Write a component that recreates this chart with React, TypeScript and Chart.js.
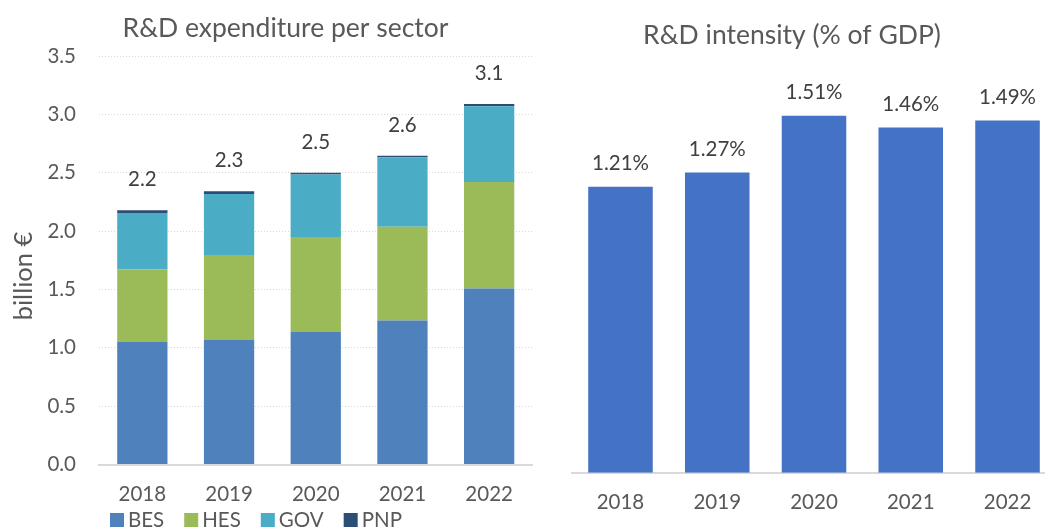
import React, { useEffect, useRef } from 'react';
import { Chart, registerables } from 'chart.js';

Chart.register(...registerables);

const YEARS = ['2018', '2019', '2020', '2021', '2022'];
const SECTORS = ['BES', 'HES', 'GOV', 'PNP'];
const BES = [1.05, 1.07, 1.14, 1.234, 1.509];
const HES = [0.62, 0.725, 0.81, 0.804, 0.912];
const GOV = [0.485, 0.523, 0.535, 0.594, 0.648];
const PNP = [0.023, 0.023, 0.014, 0.014, 0.02];
const INTENSITY = [1.21, 1.27, 1.51, 1.46, 1.49];
const SECTOR_COLORS = ['#4F81BD', '#9BBB59', '#4BACC6', '#2C4D75'];
const INTENSITY_COLOR = '#4472C4';
const LEFT_TITLE = 'R&D expenditure per sector';
const RIGHT_TITLE = 'R&D intensity (% of GDP)';
const Y_LABEL = 'billion €';

const FONT = 'Lato, "Open Sans", sans-serif';
const TEXT = '#595959';
const VALUE_TEXT = '#404040';
const GRID = '#D9D9D9';
const TICK_SIZE = 20.5;
const TITLE_SIZE = 26.5;
const YLABEL_SIZE = 25.5;

const leftDecor = {
  id: 'leftDecor',
  afterDraw(chart: any) {
    const ctx = chart.ctx;
    ctx.save();
    ctx.fillStyle = TEXT;
    ctx.font = `${TITLE_SIZE}px ${FONT}`;
    ctx.textAlign = 'center';
    ctx.textBaseline = 'alphabetic';
    ctx.fillText(LEFT_TITLE, 285.5, 36.5);

    // y axis title
    ctx.save();
    ctx.font = `${YLABEL_SIZE}px ${FONT}`;
    ctx.translate(32, 276);
    ctx.rotate(-Math.PI / 2);
    ctx.fillText(Y_LABEL, 0, 0);
    ctx.restore();

    // totals
    ctx.fillStyle = VALUE_TEXT;
    ctx.font = `${TICK_SIZE}px ${FONT}`;
    const yScale = chart.scales.y;
    const meta = chart.getDatasetMeta(0);
    YEARS.forEach((_, i) => {
      const total = chart.data.datasets.reduce((s: number, d: any) => s + d.data[i], 0);
      const x = meta.data[i].x;
      const y = yScale.getPixelForValue(total);
      ctx.fillText(total.toFixed(1), x, y - 24);
    });

    // legend
    ctx.textAlign = 'left';
    ctx.fillStyle = TEXT;
    let lx = 110;
    chart.data.datasets.forEach((d: any) => {
      ctx.fillStyle = d.backgroundColor;
      ctx.fillRect(lx, 513, 14, 14);
      ctx.fillStyle = TEXT;
      ctx.fillText(d.label, lx + 18, 527);
      lx += 18 + ctx.measureText(d.label).width + 20;
    });
    ctx.restore();
  },
};

const rightDecor = {
  id: 'rightDecor',
  afterDraw(chart: any) {
    const ctx = chart.ctx;
    ctx.save();
    ctx.fillStyle = TEXT;
    ctx.font = `${TITLE_SIZE}px ${FONT}`;
    ctx.textAlign = 'center';
    ctx.textBaseline = 'alphabetic';
    ctx.fillText(RIGHT_TITLE, 237, 43.5);
    ctx.fillStyle = VALUE_TEXT;
    ctx.font = `${TICK_SIZE}px ${FONT}`;
    const meta = chart.getDatasetMeta(0);
    INTENSITY.forEach((v, i) => {
      const bar = meta.data[i];
      ctx.fillText(v.toFixed(2) + '%', bar.x, bar.y - 17);
    });
    ctx.restore();
  },
};

export default function App() {
  const leftRef = useRef<HTMLCanvasElement>(null);
  const rightRef = useRef<HTMLCanvasElement>(null);

  useEffect(() => {
    const left = new Chart(leftRef.current as HTMLCanvasElement, {
      type: 'bar',
      data: {
        labels: YEARS,
        datasets: [BES, HES, GOV, PNP].map((data, k) => ({
          label: SECTORS[k],
          data,
          backgroundColor: SECTOR_COLORS[k],
          borderWidth: 0,
          categoryPercentage: 1,
          barPercentage: 0.58,
        })),
      },
      options: {
        responsive: false,
        animation: false,
        devicePixelRatio: 1,
        layout: { padding: { left: 0, right: 12.5, top: 56, bottom: 0 } },
        plugins: { legend: { display: false }, tooltip: { enabled: false } },
        scales: {
          x: {
            stacked: true,
            grid: { display: false, drawTicks: false },
            border: { display: true, color: GRID, width: 2 },
            ticks: { color: TEXT, font: { family: FONT, size: TICK_SIZE }, padding: 18 },
            afterFit: (s: any) => { s.height = 64.5; },
          },
          y: {
            stacked: true,
            min: 0,
            max: 3.5,
            grid: { color: GRID, drawTicks: false, lineWidth: 1 },
            border: { display: false, dash: [1, 2] },
            ticks: {
              stepSize: 0.5,
              color: TEXT,
              font: { family: FONT, size: TICK_SIZE },
              padding: 23,
              callback: (v: any) => Number(v).toFixed(1),
            },
            afterFit: (s: any) => { s.width = 99; },
          },
        },
      },
      plugins: [leftDecor],
    } as any);

    const right = new Chart(rightRef.current as HTMLCanvasElement, {
      type: 'bar',
      data: {
        labels: YEARS,
        datasets: [{
          label: RIGHT_TITLE,
          data: INTENSITY,
          backgroundColor: INTENSITY_COLOR,
          borderWidth: 0,
          categoryPercentage: 1,
          barPercentage: 0.667,
        }],
      },
      options: {
        responsive: false,
        animation: false,
        devicePixelRatio: 1,
        layout: { padding: { left: 17.1, right: 19.1, top: 94.5, bottom: 0 } },
        plugins: { legend: { display: false }, tooltip: { enabled: false } },
        scales: {
          x: {
            grid: { display: false, drawTicks: false },
            border: { display: true, color: GRID, width: 2 },
            ticks: { color: TEXT, font: { family: FONT, size: TICK_SIZE }, padding: 17 },
            afterFit: (s: any) => { s.height = 56.3; },
          },
          y: { display: false, min: 0, max: 1.6 },
        },
      },
      plugins: [rightDecor],
    } as any);

    return () => { left.destroy(); right.destroy(); };
  }, []);

  return (
    <div style={{ position: 'fixed', left: 0, top: 0, width: 1045, height: 529, overflow: 'hidden', background: '#fff' }}>
      <canvas ref={leftRef} width={545} height={529} style={{ position: 'absolute', left: 0, top: 0, width: 545, height: 529 }} />
      <canvas ref={rightRef} width={520} height={529} style={{ position: 'absolute', left: 555, top: 0, width: 520, height: 529 }} />
    </div>
  );
}
